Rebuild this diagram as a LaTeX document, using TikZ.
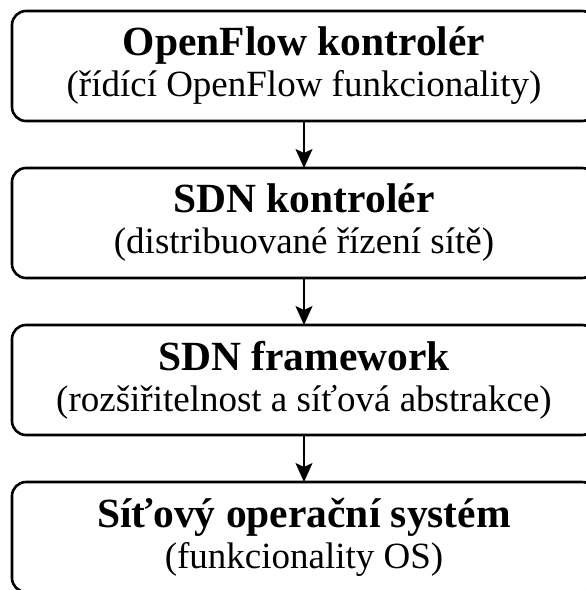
\documentclass[tikz,border=0pt]{standalone}
\usepackage{fontspec}
\setmainfont{Liberation Serif}
\usetikzlibrary{arrows.meta,positioning}

\newcommand{\layertext}[2]{{\bfseries\fontsize{41.5}{42}\selectfont #1}\\{\fontsize{37}{41}\selectfont #2}}

\begin{document}
\begin{tikzpicture}[x=1pt,y=1pt]
            \tikzset{layer/.style = {draw, line width=2.6pt, rounded corners=14pt, minimum width=584pt, minimum height=110pt, align=center, inner sep=0pt, outer sep=0pt, font=\fontsize{37}{41}\selectfont}}
            \tikzset{edge/.style = {-{Stealth[length=19pt,width=17pt,inset=4pt]}, line width=1.6pt}}

            \useasboundingbox (0,0) rectangle (586,-590);
            \clip (0,0) rectangle (586,-590);

            % layers
            \node[layer] (of) at (304,-66) {\layertext{OpenFlow kontrolér}{(řídící OpenFlow funkcionality)}};
            \node[layer, below=47pt of of] (sdn) {\layertext{SDN kontrolér}{(distribuované řízení sítě)}};
            \node[layer, below=47pt of sdn] (fw) {\layertext{SDN framework}{(rozšiřitelnost a síťová abstrakce)}};
            \node[layer, below=47pt of fw] (nos) {\layertext{Síťový operační systém}{(funkcionality OS)}};

            % edges
            \foreach \a/\b in {of/sdn,sdn/fw,fw/nos} {\draw[edge] (\a) to (\b);}

          \end{tikzpicture}
\end{document}
